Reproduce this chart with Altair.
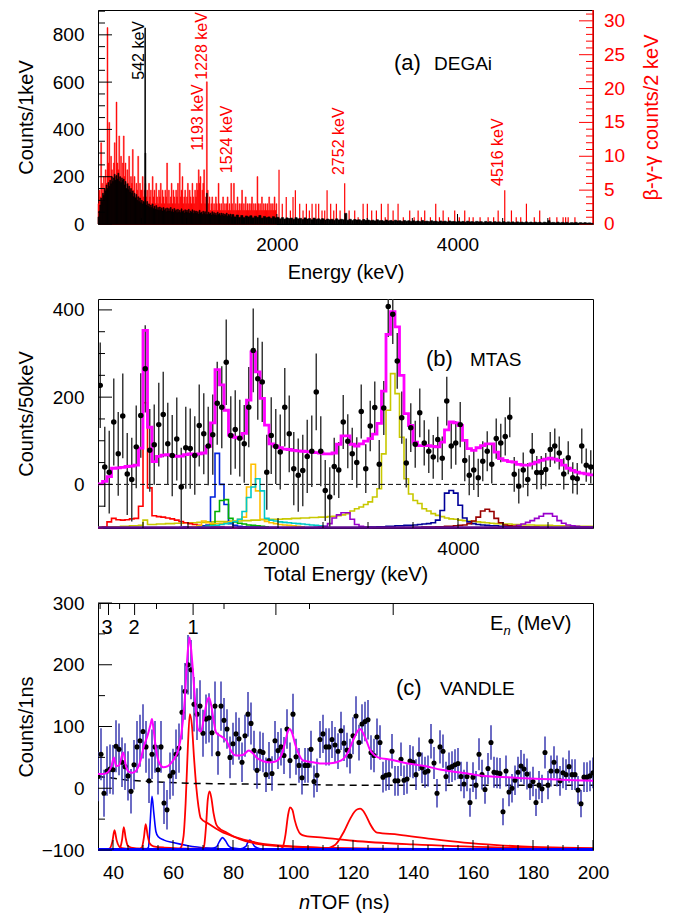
import altair as alt
import pandas as pd

FONT = "Liberation Sans"
W = 495
HA, HB, HC = 214, 229, 247

# ================= (a) DEGAi =================
BLACK_LO_START = 20          # keV, 10-keV bins, Counts/1keV
BLACK_LO = [30, 55, 80, 110, 95, 130, 120, 150,
            140, 165, 150, 175, 160, 185, 170, 200, 180, 195,
            210, 185, 205, 190, 215, 180, 200, 175, 195, 185,
            190, 165, 180, 150, 170, 145, 160, 135, 150, 130,
            140, 115, 130, 110, 125, 100, 115, 95, 110, 90,
            100, 85, 95, 90, 300, 80, 95, 75, 85, 70,
            80, 70, 85, 65, 75, 62, 78, 60, 70, 58,
            72, 60, 68, 55, 70, 58, 65, 52, 68, 55,
            65, 55, 70, 52, 62, 50, 66, 54, 60, 48,
            62, 50, 58, 48, 64, 52, 56, 46, 60, 50,
            58, 48, 62, 45, 55, 50, 60, 44, 56, 48,
            55, 45, 52, 42, 58, 46, 50, 40, 54, 44,
            52, 40, 130, 40, 50, 42, 46, 38, 52, 40,
            48, 38, 45, 36, 50, 40, 44, 35, 46, 38,
            44, 34, 42, 36, 46, 32, 40, 35, 42, 30]
BLACK_HI_START = 1500        # keV, 25-keV bins
BLACK_HI = [40, 30, 38, 28, 36, 27, 34, 30, 35, 26, 33, 28, 36, 25, 32, 27, 30, 24, 31, 26,
            28, 22, 27, 21, 26, 23, 25, 20, 27, 22, 24, 19, 26, 21, 23, 18, 25, 20, 22, 18,
            22, 17, 21, 18, 20, 16, 22, 17, 20, 18, 45, 16, 20, 15, 19, 17, 18, 14, 19, 15,
            17, 14, 16, 13, 18, 14, 15, 12, 17, 13, 15, 12, 16, 13, 14, 11, 15, 12, 14, 11,
            14, 11, 13, 10, 15, 11, 12, 10, 14, 11, 12, 9, 13, 10, 12, 9, 13, 10, 11, 9,
            12, 9, 11, 8, 12, 9, 10, 8, 11, 9, 10, 7, 11, 8, 10, 7, 10, 8, 9, 7,
            10, 7, 9, 7, 9, 6, 9, 7, 8, 6, 9, 6, 8, 6, 8, 6, 8, 5, 8, 6,
            14, 6, 7, 5, 8, 5, 7, 5, 7, 4, 6, 5, 7, 4, 6, 4, 6, 4, 5, 3]
RED_LO_START = 20            # keV, 10-keV bins, beta-gamma-gamma counts/2keV
RED_LO = [3, 5, 4, 12, 6, 4, 7, 5,
          8, 6, 29, 9, 15, 7, 10, 8, 6, 9,
          12, 7, 18, 9, 8, 13, 7, 10, 6, 9,
          13, 7, 9, 5, 8, 6, 10, 5, 7, 6,
          11, 5, 7, 4, 6, 5, 10, 4, 6, 5,
          5, 7, 4, 5, 6, 4, 5, 3, 6, 4,
          5, 3, 7, 4, 5, 3, 6, 4, 3, 5,
          4, 6, 3, 5, 4, 3, 5, 4, 9, 3,
          5, 3, 4, 6, 3, 5, 4, 3, 5, 4,
          6, 3, 9, 4, 5, 7, 3, 4, 5, 3,
          4, 6, 3, 5, 4, 3, 6, 4, 3, 5,
          4, 6, 5, 8, 6, 7, 3, 5, 6, 8,
          3, 4, 21, 5, 3, 4, 2, 3, 4, 2,
          3, 2, 4, 3, 2, 6, 3, 2, 3, 2,
          4, 2, 3, 2, 3, 4, 2, 3, 2, 6,
          3, 2, 6, 2, 3, 2, 4, 2, 3, 2,
          3, 5, 2, 3, 2, 4, 2, 3, 2, 3,
          2, 3, 4, 2, 3, 2, 3, 2, 7, 3,
          2, 3, 2, 4, 2, 3, 2, 3, 2, 3,
          2, 4, 2, 3, 2, 3, 2, 4, 2, 3]
RED_HI_E = [2024, 2060, 2104, 2150, 2179, 2205, 2253, 2290, 2327, 2360,
            2390, 2432, 2463, 2500, 2530, 2556, 2596, 2630, 2659, 2700,
            2751, 2800, 2862, 2900, 2955, 3002, 3050, 3102, 3157, 3200,
            3231, 3287, 3342, 3400, 3471, 3520, 3564, 3600, 3637, 3700,
            3759, 3800, 3841, 3900, 3969, 4020, 4080, 4130, 4173, 4250,
            4339, 4400, 4450, 4523, 4597, 4650, 4700, 4763, 4850, 4910,
            5021, 5100, 5169, 5197, 5225, 5300]
RED_HI_C = [8, 3, 4, 2, 4, 5, 3, 2, 3, 2,
            3, 3, 3, 2, 2, 5, 3, 2, 3, 2,
            6, 2, 2, 1, 3, 3, 2, 2, 3, 1,
            3, 2, 3, 1, 2, 1, 2, 1, 2, 1,
            3, 1, 2, 1, 2, 1, 2, 1, 1, 1,
            1, 1, 2, 5, 2, 1, 1, 3, 1, 2,
            1, 1, 1, 1, 1, 1]
LINE_542_E, LINE_542_TOP = 542, 830
PEAK_TEXT = ["542 keV", "1228 keV", "1193 keV", "1524 keV", "2752 keV", "4516 keV"]
PEAK_X = [472, 1175, 1127, 1450, 2687, 4450]
PEAK_Y = [610, 610, 310, 215, 207, 161]
PEAK_COLOR = ["black", "red", "red", "red", "red", "red"]

# ================= (b) MTAS (50-keV bins) =================
MTAS_VAL = [227, 40, 28, 143, 70, 157, 24, 11, 86, 158,
            265, 78, 91, 137, 160, 93, 66, 104, -6, 84,
            82, 66, 135, 116, 88, 114, 186, 177, 280, 112,
            126, 106, 93, 177, 307, 242, 235, 28, 112, 87,
            74, 177, 116, 36, 21, 32, 64, 76, 212, 76,
            -14, -29, 41, 33, 143, 99, 70, 50, 167, 36,
            134, 176, 46, 175, 408, 390, 283, 153, 49, 130,
            92, 164, 95, 76, 63, 103, 60, 191, 88, 95,
            137, 55, 21, 33, 15, 53, 76, 46, 105, 95,
            110, 154, 23, -4, 33, 11, 76, 27, 27, 34,
            80, 88, 72, 24, 61, 15, 13, 88, 44, 40]
MTAS_ERR = [98, 92, 95, 100, 96, 97, 94, 96, 95, 97,
            100, 95, 92, 96, 98, 94, 93, 95, 90, 94,
            92, 90, 94, 93, 90, 92, 95, 94, 98, 90,
            90, 88, 89, 92, 96, 94, 92, 86, 88, 86,
            86, 90, 88, 84, 84, 82, 84, 82, 88, 80,
            70, 68, 66, 64, 62, 62, 60, 58, 62, 56,
            58, 60, 56, 62, 70, 68, 64, 60, 56, 56,
            54, 56, 52, 50, 50, 52, 50, 56, 52, 50,
            52, 48, 46, 46, 44, 46, 46, 44, 46, 44,
            44, 46, 40, 40, 40, 38, 42, 38, 38, 38,
            40, 40, 38, 36, 38, 36, 36, 40, 38, 38]
MTAS_FIT = [1, 7, 18, 37, 38, 39, 41, 42, 44, 83,
            353, 131, 52, 64, 67, 68, 66, 64, 65, 68,
            70, 68, 70, 72, 87, 141, 263, 228, 170, 113,
            108, 106, 117, 193, 304, 258, 197, 136, 93, 88,
            84, 81, 80, 78, 77, 76, 75, 74, 73, 72,
            70, 70, 72, 92, 111, 111, 92, 88, 93, 99,
            105, 115, 140, 214, 344, 396, 361, 250, 162, 135,
            97, 89, 89, 89, 87, 86, 97, 125, 143, 141,
            135, 101, 82, 78, 84, 89, 93, 93, 74, 59,
            55, 52, 51, 46, 44, 44, 47, 51, 55, 58,
            60, 58, 55, 44, 37, 32, 28, 26, 24, 22]
C_RED_START = 0
C_RED = [-100, -98, -86, -78, -81, -82, -81, -79, -78, -50, 187, -8, -72, -74, -75, -77,
         -79, -82, -85, -88, -90, -92, -94, -95, -96, -97, -98, -98, -99, -99, -100]
C_BLUE_START = 18
C_BLUE = [-99, -98, -98, -97, -96, -95, -93, -29, 71, 0, -46, -90, -94, -96, -97, -98,
          -98, -98, -99, -99, -99, -99, -100]
C_GREEN_START = 20
C_GREEN = [-99, -99, -98, -97, -96, -92, -62, -37, -35, -78, -86, -89, -91, -93, -94, -95, -96, -97]
C_ORANGE_START = 20
C_ORANGE = [-98, -97, -95, -84, -88, -90, -90, -89, -88, -86, -84, -80, -75, -6, 46, -15,
            -80, -85, -88, -90, -92, -93, -94, -95, -96, -97]
C_CYAN_START = 22
C_CYAN = [-98, -97, -96, -95, -94, -92, -90, -88, -85, -80, -62, -30, -6, 13, -15, -78,
          -82, -84, -86, -87, -88, -89, -90, -91, -92, -93, -94, -95, -96]
C_OLIVE_START = 0
C_OLIVE = [-98, -98, -97, -97, -97, -96, -96, -95, -95, -94,
           -82, -92, -92, -91, -91, -90, -90, -89, -89, -88,
           -88, -88, -87, -87, -86, -86, -85, -85, -85, -84,
           -84, -84, -83, -83, -82, -82, -81, -81, -80, -80,
           -80, -79, -79, -78, -78, -77, -77, -76, -76, -75,
           -75, -74, -73, -72, -70, -67, -61, -56, -52, -46,
           -40, -29, -10, 70, 170, 254, 208, 108, 13, -22,
           -37, -44, -56, -61, -67, -71, -74, -77, -79, -80,
           -82, -83, -84, -85, -86, -87, -88, -89, -90, -90,
           -91, -91, -92, -92, -93, -93, -93, -94, -94, -94,
           -94, -95, -95, -95, -95, -96, -96, -96, -96, -96]
C_PURPLE_A_START = 48
C_PURPLE_A = [-99, -98, -96, -90, -77, -70, -65, -65, -80, -92, -96, -98, -99]
C_PURPLE_B_START = 90
C_PURPLE_B = [-98, -97, -96, -94, -91, -87, -83, -78, -73, -67, -67, -73, -83, -89, -93,
              -95, -96, -97, -97, -98]
C_NAVY_START = 60
C_NAVY = [-98, -98, -97, -97, -96, -96, -95, -95, -94, -94, -93, -92, -91, -90, -88, -82,
          -60, -20, -14, -20, -48, -77, -86, -90, -92, -93, -94, -95, -95, -96, -96, -97,
          -97, -97, -98, -98]
C_MAROON_START = 70
C_MAROON = [-99, -99, -98, -98, -98, -97, -97, -96, -96, -95, -94, -93, -90, -84, -75, -61,
            -57, -62, -78, -88, -93, -95, -96, -97, -97, -98, -98, -98, -99, -99, -99]

# ================= (c) VANDLE (1-ns bins from 35 ns) =================
V_START = 35
V_VAL = [19, 55, -8, 28, 31, 30, 68, 63, 42, 35,
         20, -5, 38, 67, 77, 92, 67, 12, 55, 67,
         30, 67, -24, -35, 20, 26, 55, 65, 123, 157,
         200, 192, 136, 120, 133, 89, 112, 114, 90, 133,
         56, 133, 110, 96, 50, 72, 88, 80, 42, 85,
         120, 105, 61, 29, 60, 58, 22, 45, 24, 77,
         61, 67, 53, 96, 45, 120, 51, 37, 17, 37,
         37, 63, 11, 21, 79, 88, 67, 67, 79, 70,
         60, 93, 73, 62, 52, 85, 117, 74, 104, 108,
         111, 58, 53, 83, 74, 18, 21, 22, 60, 12,
         12, 47, 13, 15, 44, 42, 22, 55, 33, 26,
         28, 76, 41, -8, 67, 60, 19, 33, 35, 38,
         40, 19, 7, 19, -23, 18, 5, 55, 22, -2,
         32, 74, 26, 25, 24, -38, 28, -6, 0, 13,
         26, 36, 31, 23, 4, 11, -23, 5, -1, 58,
         5, 28, 42, 28, 12, 25, 22, 35, 22, 22,
         -3, -25, 18, 18, 20, 25]
V_ERR = [40, 42, 38, 40, 40, 40, 42, 42, 40, 38,
         40, 36, 40, 42, 42, 44, 42, 36, 40, 42,
         40, 42, 34, 32, 38, 38, 40, 40, 44, 46,
         48, 48, 44, 42, 42, 38, 40, 40, 38, 40,
         34, 40, 36, 32, 34, 34, 35, 34, 32, 34,
         36, 34, 32, 30, 32, 32, 28, 30, 28, 32,
         30, 30, 30, 32, 29, 33, 29, 28, 27, 28,
         28, 30, 26, 27, 30, 31, 30, 30, 30, 29,
         29, 31, 29, 28, 28, 30, 32, 29, 32, 32,
         32, 28, 27, 30, 28, 25, 25, 25, 28, 24,
         24, 27, 24, 24, 26, 26, 25, 27, 25, 25,
         25, 28, 26, 23, 27, 27, 24, 25, 25, 25,
         25, 24, 23, 24, 23, 24, 23, 26, 24, 23,
         25, 28, 25, 25, 25, 22, 25, 23, 23, 24,
         25, 26, 25, 25, 23, 24, 22, 23, 23, 26,
         23, 25, 26, 25, 24, 25, 25, 26, 25, 25,
         23, 22, 24, 24, 25, 25]
FIT_T = [34.5, 36.6, 38.3, 39.5, 40.3, 41.0, 42.0, 43.4, 44.4, 45.5, 46.5, 47.8, 49.0, 50.3,
         51.5, 52.5, 53.0, 53.6, 54.4, 55.5, 56.7, 58.3, 60.0, 61.7, 62.8, 63.9, 64.7, 65.5,
         66.4, 67.4, 68.3, 69.3, 70.5, 71.3, 72.0, 72.8, 73.6, 74.4, 76.1, 77.8, 79.4, 81.1,
         83.3, 85.3, 86.5, 88.0, 89.4, 91.7, 93.9, 96.1, 97.5, 98.3, 98.9, 99.8, 100.8, 101.7,
         103.3, 106.7, 110.0, 113.3, 116.1, 118.3, 120.0, 121.2, 122.3, 123.3, 124.5, 125.5,
         127.0, 128.3, 132.8, 138.3, 143.9, 149.4, 155.0, 160.5, 166.1, 171.6, 177.2, 182.8,
         188.3, 193.9, 200.0]
FIT_V = [23, 23, 26, 36, 50, 36, 37, 58, 34, 26, 25, 29, 42, 68,
         85, 103, 112, 92, 61, 40, 34, 36, 45, 61, 88, 142, 207, 244,
         205, 140, 96, 92, 120, 140, 147, 133, 108, 90, 84, 77, 60, 53,
         54, 61, 57, 49, 45, 42, 43, 53, 77, 92, 96, 88, 70, 58,
         45, 42, 40, 41, 45, 58, 77, 90, 96, 90, 77, 64,
         54, 50, 46, 40, 36, 30, 26, 22, 19, 18, 16, 15,
         14, 13, 12]
BG_T = [35, 39, 45, 55, 65, 80, 100, 120, 200]
BG_V = [19, 17, 13, 10, 8, 7, 6, 5, 5]
R1_T = [37.5, 39.0, 39.8, 40.5, 41.2, 42.0, 43.0, 46.0, 55.0, 80.0, 120.0]
R1_V = [-100, -97, -86, -68, -84, -94, -97, -98.5, -99.2, -99.6, -100]
R2_T = [41.0, 42.3, 43.0, 43.6, 44.2, 44.9, 46.0, 50.0, 60.0, 100.0]
R2_V = [-100, -97, -84, -63, -80, -93, -96, -98, -99, -100]
R3_T = [48.0, 49.6, 50.3, 50.9, 51.5, 52.2, 53.5, 57.0, 70.0, 110.0]
R3_V = [-100, -96, -80, -58, -75, -89, -94, -96, -98, -100]
R4_T = [61.0, 62.5, 63.5, 64.2, 64.9, 65.6, 66.3, 67.0, 67.8, 68.5, 69.2, 72.0, 76.0, 80.0,
        85.0, 90.0, 100.0, 115.0, 140.0, 200.0]
R4_V = [-100, -97, -78, -25, 60, 120, 102, 50, 0, -30, -48, -58, -70, -78,
        -85, -90, -94, -97, -98.5, -99.5]
R5_T = [69.0, 70.3, 71.0, 71.6, 72.2, 72.8, 73.5, 74.3, 75.0, 78.0, 82.0, 88.0, 100.0, 130.0, 200.0]
R5_V = [-100, -95, -62, -18, -5, -16, -40, -57, -63, -72, -82, -90, -95, -98, -99.5]
R6_T = [95.0, 96.5, 97.5, 98.3, 99.0, 99.8, 100.6, 101.5, 102.5, 104.0, 110.0, 120.0, 140.0, 170.0, 200.0]
R6_V = [-100, -96, -75, -45, -31, -35, -52, -66, -74, -77, -80, -85, -91, -96, -98]
R7_T = [110.0, 114.0, 117.0, 119.0, 120.5, 121.5, 122.4, 123.3, 124.3, 125.5, 127.0, 128.0,
        135.0, 146.0, 157.0, 168.0, 180.0, 190.0, 200.0]
R7_V = [-99, -92, -70, -50, -38, -34, -33, -36, -44, -56, -68, -72,
        -75, -82, -88, -92, -95, -96, -97]
B1_T = [50.5, 51.8, 52.4, 53.0, 53.6, 54.3, 55.0, 57.0, 60.0, 65.0, 72.0, 80.0]
B1_V = [-100, -96, -55, -13, -40, -70, -78, -84, -88, -93, -97, -99]
B2_T = [72.0, 74.5, 75.5, 76.5, 77.5, 78.5, 80.0, 84.0, 90.0]
B2_V = [-99, -95, -86, -80, -85, -93, -97, -99, -100]
B3_T = [82.0, 84.3, 85.0, 85.6, 86.3, 87.2, 89.0, 93.0]
B3_V = [-99, -94, -87, -84, -87, -94, -98, -100]
EN_LABEL = ["3", "2", "1"]
EN_LABEL_T = [38.0, 47.0, 66.7]

# ---- tick values ----
A_X_MAJ = [2000, 4000]
A_X_MIN = [500, 1000, 1500, 2500, 3000, 3500, 4500, 5000]
A_Y_MAJ = [0, 200, 400, 600, 800]
A_Y_MIN = [50, 100, 150, 250, 300, 350, 450, 500, 550, 650, 700, 750, 850, 900]
R_Y_MAJ = [0, 5, 10, 15, 20, 25, 30]
R_Y_MIN = [1, 2, 3, 4, 6, 7, 8, 9, 11, 12, 13, 14, 16, 17, 18, 19, 21, 22, 23, 24,
           26, 27, 28, 29, 31]
B_Y_MAJ = [0, 200, 400]
B_Y_MIN = [-50, 50, 100, 150, 250, 300, 350]
C_Y_MAJ = [-100, 0, 100, 200, 300]
C_Y_MIN = [-50, 50, 150, 250]
C_X_MAJ = [40, 60, 80, 100, 120, 140, 160, 180, 200]
C_X_MIN = [45, 50, 55, 65, 70, 75, 85, 90, 95, 105, 110, 115, 125, 130, 135, 145, 150, 155,
           165, 170, 175, 185, 190, 195]
C_TOP_MAJ = [38.5, 47.2, 66.7, 94.3, 133.4]
C_TOP_MIN = [35.7, 42.2, 54.5, 77.0, 105.5]

ONE = pd.DataFrame({"a": [0]})


def lab(text, x, y, size, color="black", italic=False, align="left"):
    return alt.Chart(ONE).mark_text(
        text=text, font=FONT, fontSize=size, color=color, align=align,
        baseline="middle", fontStyle="italic" if italic else "normal"
    ).encode(x=alt.value(x), y=alt.value(y))


def yticks(vals, scale, length, right=False, color="black"):
    df = pd.DataFrame({"v": vals})
    if right:
        xx = dict(x=alt.value(W), x2=alt.value(W - length))
    else:
        xx = dict(x=alt.value(0), x2=alt.value(length))
    return alt.Chart(df).mark_rule(color=color, strokeWidth=1).encode(
        y=alt.Y("v:Q", scale=scale), **xx)


def xticks(vals, scale, length, H, top=False):
    df = pd.DataFrame({"v": vals})
    if top:
        yy = dict(y=alt.value(0), y2=alt.value(length))
    else:
        yy = dict(y=alt.value(H), y2=alt.value(H - length))
    return alt.Chart(df).mark_rule(color="black", strokeWidth=1).encode(
        x=alt.X("v:Q", scale=scale), **yy)


def left_axis(values, title):
    return alt.Axis(values=values, format="d", ticks=False, tickSize=0, domain=False, grid=False,
                    labelFont=FONT, labelFontSize=19, labelColor="black", labelPadding=14,
                    labelFlush=False, labelOverlap=False, title=title, titleFont=FONT,
                    titleFontSize=20, titleFontWeight="normal", titleColor="black",
                    titleX=-72, titleBaseline="middle")


def bottom_axis(values, title, title_y, pad):
    kw = dict(values=values, format="d", ticks=False, tickSize=0, domain=False, grid=False,
              labelFont=FONT, labelFontSize=19, labelColor="black", labelPadding=pad,
              labelFlush=False, labelOverlap=False, title=title, titleFont=FONT,
              titleFontSize=20, titleFontWeight="normal", titleColor="black",
              titleY=title_y, titleBaseline="middle")
    return alt.Axis(**kw)


def bins_df(start, width, vals):
    return pd.DataFrame({"e0": [start + width * i for i in range(len(vals))],
                         "e1": [start + width * (i + 1) for i in range(len(vals))],
                         "v": vals, "z": [0] * len(vals)})


# ================= panel (a) =================
XA = alt.Scale(domain=[20, 5500], nice=False, zero=False)
YA = alt.Scale(domain=[0, 905], nice=False, zero=False)
YR = alt.Scale(domain=[0, 31.6], nice=False, zero=False)

black_df = pd.concat([bins_df(BLACK_LO_START, 10, BLACK_LO), bins_df(BLACK_HI_START, 25, BLACK_HI)])
red_df = bins_df(RED_LO_START, 10, RED_LO)
redhi_df = pd.DataFrame({"e": RED_HI_E, "v": RED_HI_C, "z": [0] * len(RED_HI_E)})

red_axis = alt.Axis(orient="right", values=R_Y_MAJ, ticks=False, tickSize=0, labels=False,
                    domain=False, grid=False, title="β-γ-γ counts/2 keV",
                    titleFont=FONT, titleFontSize=20, titleFontWeight="normal", titleColor="red",
                    titleAngle=270, titleX=58, titleBaseline="middle")

red_rects = alt.Chart(red_df).mark_rect(color="#ff0000", stroke="#ff0000", strokeWidth=0.5).encode(
    x=alt.X("e0:Q", scale=XA, axis=bottom_axis(A_X_MAJ, "Energy (keV)", 48, 11)),
    x2="e1:Q",
    y=alt.Y("v:Q", scale=YR, axis=red_axis), y2="z:Q")
red_spikes = alt.Chart(redhi_df).mark_rule(color="#ff0000", strokeWidth=1.2).encode(
    x=alt.X("e:Q", scale=XA), y=alt.Y("v:Q", scale=YR), y2="z:Q")
red_border = alt.Chart(ONE).mark_rule(color="#ff0000", strokeWidth=1.5).encode(
    x=alt.value(W), y=alt.value(0), y2=alt.value(HA))
red_labels = alt.Chart(pd.DataFrame({"v": R_Y_MAJ})).mark_text(
    font=FONT, fontSize=19, color="#ff0000", align="left", baseline="middle").encode(
    y=alt.Y("v:Q", scale=YR), x=alt.value(W + 11), text=alt.Text("v:Q", format="d"))
red_group = alt.layer(red_rects, red_spikes,
                      yticks(R_Y_MAJ, YR, 14, right=True, color="#ff0000"),
                      yticks(R_Y_MIN, YR, 7, right=True, color="#ff0000"),
                      red_border, red_labels)

black_rects = alt.Chart(black_df).mark_rect(color="black", stroke="black", strokeWidth=0.6).encode(
    x=alt.X("e0:Q", scale=XA), x2="e1:Q",
    y=alt.Y("v:Q", scale=YA, axis=left_axis(A_Y_MAJ, "Counts/1keV")), y2="z:Q")
line542 = alt.Chart(pd.DataFrame({"e": [LINE_542_E], "t": [LINE_542_TOP], "z": [0]})).mark_rule(
    color="black", strokeWidth=1.5).encode(
    x=alt.X("e:Q", scale=XA), y=alt.Y("t:Q", scale=YA), y2="z:Q")
peak_labels = alt.Chart(pd.DataFrame({"t": PEAK_TEXT, "x": PEAK_X, "y": PEAK_Y, "c": PEAK_COLOR})).mark_text(
    angle=270, align="left", baseline="middle", font=FONT, fontSize=16).encode(
    x=alt.X("x:Q", scale=XA), y=alt.Y("y:Q", scale=YA),
    text="t:N", color=alt.Color("c:N", scale=None))
black_group = alt.layer(
    black_rects, line542, peak_labels,
    yticks(A_Y_MAJ, YA, 14), yticks(A_Y_MIN, YA, 7),
    xticks(A_X_MAJ, XA, 10, HA), xticks(A_X_MIN, XA, 6, HA),
    lab("(a)", 296, 53, 22), lab("DEGAi", 336, 54, 19))

panel_a = alt.layer(red_group, black_group).resolve_scale(y="independent").properties(width=W, height=HA)

# ================= panel (b) =================
XB = alt.Scale(domain=[0, 5500], nice=False, zero=False)
YB = alt.Scale(domain=[-100, 425], nice=False, zero=False)
BW = 50


def step_rows(name, start, vals):
    rows = [{"name": name, "e": (start + i) * BW, "v": v} for i, v in enumerate(vals)]
    rows.append({"name": name, "e": (start + len(vals)) * BW, "v": vals[-1]})
    return rows


comp_rows = []
comp_rows += step_rows("olive", C_OLIVE_START, C_OLIVE)
comp_rows += step_rows("red", C_RED_START, C_RED)
comp_rows += step_rows("blue", C_BLUE_START, C_BLUE)
comp_rows += step_rows("green", C_GREEN_START, C_GREEN)
comp_rows += step_rows("orange", C_ORANGE_START, C_ORANGE)
comp_rows += step_rows("cyan", C_CYAN_START, C_CYAN)
comp_rows += step_rows("purpleA", C_PURPLE_A_START, C_PURPLE_A)
comp_rows += step_rows("purpleB", C_PURPLE_B_START, C_PURPLE_B)
comp_rows += step_rows("navy", C_NAVY_START, C_NAVY)
comp_rows += step_rows("maroon", C_MAROON_START, C_MAROON)
comp_df = pd.DataFrame(comp_rows)
COMP_NAMES = ["olive", "red", "blue", "green", "orange", "cyan", "purpleA", "purpleB", "navy", "maroon"]
COMP_COLORS = ["#c8c800", "#ff0000", "#0022dd", "#00b000", "#ffbf00", "#00c8c8", "#9900cc",
               "#9900cc", "#000099", "#990000"]

fit_df = pd.DataFrame(step_rows("fit", 0, MTAS_FIT))
pts_b = pd.DataFrame({"e": [BW * i + BW / 2 for i in range(len(MTAS_VAL))], "v": MTAS_VAL,
                      "lo": [v - s for v, s in zip(MTAS_VAL, MTAS_ERR)],
                      "hi": [v + s for v, s in zip(MTAS_VAL, MTAS_ERR)]})

comps = alt.Chart(comp_df).mark_line(interpolate="step-after", strokeWidth=1.6).encode(
    x=alt.X("e:Q", scale=XB, axis=bottom_axis(A_X_MAJ, "Total Energy (keV)", 46, 11)),
    y=alt.Y("v:Q", scale=YB, axis=left_axis(B_Y_MAJ, "Counts/50keV")),
    color=alt.Color("name:N", scale=alt.Scale(domain=COMP_NAMES, range=COMP_COLORS), legend=None),
    detail="name:N")
base_b = alt.Chart(pd.DataFrame({"v": [-99]})).mark_rule(color="#5c0a8c", strokeWidth=2.5).encode(
    y=alt.Y("v:Q", scale=YB))
zero_b = alt.Chart(pd.DataFrame({"v": [0]})).mark_rule(color="black", strokeWidth=1, strokeDash=[5, 3]).encode(
    y=alt.Y("v:Q", scale=YB))
err_b = alt.Chart(pts_b).mark_rule(color="#3a3a3a", strokeWidth=1.5, clip=True).encode(
    x=alt.X("e:Q", scale=XB), y=alt.Y("lo:Q", scale=YB), y2="hi:Q")
fit_b = alt.Chart(fit_df).mark_line(interpolate="step-after", color="#ff00ff", strokeWidth=2.8).encode(
    x=alt.X("e:Q", scale=XB), y=alt.Y("v:Q", scale=YB))
dots_b = alt.Chart(pts_b).mark_circle(color="black", size=30, opacity=1, clip=True).encode(
    x=alt.X("e:Q", scale=XB), y=alt.Y("v:Q", scale=YB))

panel_b = alt.layer(
    comps, base_b, zero_b, err_b, fit_b, dots_b,
    yticks(B_Y_MAJ, YB, 14), yticks(B_Y_MIN, YB, 7),
    xticks(A_X_MAJ, XB, 10, HB), xticks(A_X_MIN, XB, 6, HB),
    lab("(b)", 328, 60, 22), lab("MTAS", 372, 61, 19)
).properties(width=W, height=HB)

# ================= panel (c) =================
XC = alt.Scale(domain=[35, 200], nice=False, zero=False)
YC = alt.Scale(domain=[-100, 300], nice=False, zero=False)

pts_c = pd.DataFrame({"t": [V_START + i for i in range(len(V_VAL))], "v": V_VAL,
                      "lo": [v - s for v, s in zip(V_VAL, V_ERR)],
                      "hi": [v + s for v, s in zip(V_VAL, V_ERR)]})
curve_rows = []
for name, ts, vs in [("r1", R1_T, R1_V), ("r2", R2_T, R2_V), ("r3", R3_T, R3_V), ("r4", R4_T, R4_V),
                     ("r5", R5_T, R5_V), ("r6", R6_T, R6_V), ("r7", R7_T, R7_V)]:
    curve_rows += [{"id": name, "t": t, "v": v} for t, v in zip(ts, vs)]
red_c_df = pd.DataFrame(curve_rows)
blue_rows = []
for name, ts, vs in [("b1", B1_T, B1_V), ("b2", B2_T, B2_V), ("b3", B3_T, B3_V)]:
    blue_rows += [{"id": name, "t": t, "v": v} for t, v in zip(ts, vs)]
blue_c_df = pd.DataFrame(blue_rows)

blue_c = alt.Chart(blue_c_df).mark_line(color="#0000ff", strokeWidth=1.6, interpolate="monotone", clip=True).encode(
    x=alt.X("t:Q", scale=XC, axis=bottom_axis(C_X_MAJ, " ", 53, 13)),
    y=alt.Y("v:Q", scale=YC, axis=left_axis(C_Y_MAJ, "Counts/1ns")),
    detail="id:N")
red_c = alt.Chart(red_c_df).mark_line(color="#ff0000", strokeWidth=1.8, interpolate="monotone", clip=True).encode(
    x=alt.X("t:Q", scale=XC), y=alt.Y("v:Q", scale=YC), detail="id:N")
base_c = alt.Chart(pd.DataFrame({"v": [-99.3]})).mark_rule(color="#0000ff", strokeWidth=3).encode(
    y=alt.Y("v:Q", scale=YC))
bg_c = alt.Chart(pd.DataFrame({"t": BG_T, "v": BG_V})).mark_line(
    color="black", strokeWidth=1.5, strokeDash=[7, 5]).encode(
    x=alt.X("t:Q", scale=XC), y=alt.Y("v:Q", scale=YC))
err_c = alt.Chart(pts_c).mark_rule(color="#3b3bb0", strokeWidth=1.5, clip=True).encode(
    x=alt.X("t:Q", scale=XC), y=alt.Y("lo:Q", scale=YC), y2="hi:Q")
dots_c = alt.Chart(pts_c).mark_circle(color="black", size=26, opacity=1, clip=True).encode(
    x=alt.X("t:Q", scale=XC), y=alt.Y("v:Q", scale=YC))
fit_c = alt.Chart(pd.DataFrame({"t": FIT_T, "v": FIT_V})).mark_line(
    color="#ff00ff", strokeWidth=2, interpolate="monotone", clip=True).encode(
    x=alt.X("t:Q", scale=XC), y=alt.Y("v:Q", scale=YC))
en_labels = alt.Chart(pd.DataFrame({"t": EN_LABEL_T, "s": EN_LABEL})).mark_text(
    font=FONT, fontSize=20, align="center", baseline="middle").encode(
    x=alt.X("t:Q", scale=XC), y=alt.value(25), text="s:N")

panel_c = alt.layer(
    blue_c, red_c, base_c, bg_c, err_c, dots_c, fit_c, en_labels,
    yticks(C_Y_MAJ, YC, 14), yticks(C_Y_MIN, YC, 7),
    xticks(C_X_MAJ, XC, 10, HC), xticks(C_X_MIN, XC, 5, HC),
    xticks(C_TOP_MAJ, XC, 12, HC, top=True), xticks(C_TOP_MIN, XC, 6, HC, top=True),
    lab("E", 392, 21, 20), lab("n", 405.5, 28, 13, italic=True), lab("(MeV)", 419, 21, 20),
    lab("(c)", 298, 85, 22), lab("VANDLE", 342, 86, 19),
    lab("n", 201, HC + 53, 20, italic=True), lab("TOF (ns)", 212, HC + 53, 20)
).properties(width=W, height=HC)

chart = alt.vconcat(panel_a, panel_b, panel_c, spacing=75, bounds="flush").properties(
    padding={"left": 7, "top": 0, "right": 5, "bottom": 5}
).configure_view(stroke="black", strokeWidth=1)

chart.save("out.html", embed_options={"renderer": "svg", "actions": False})
